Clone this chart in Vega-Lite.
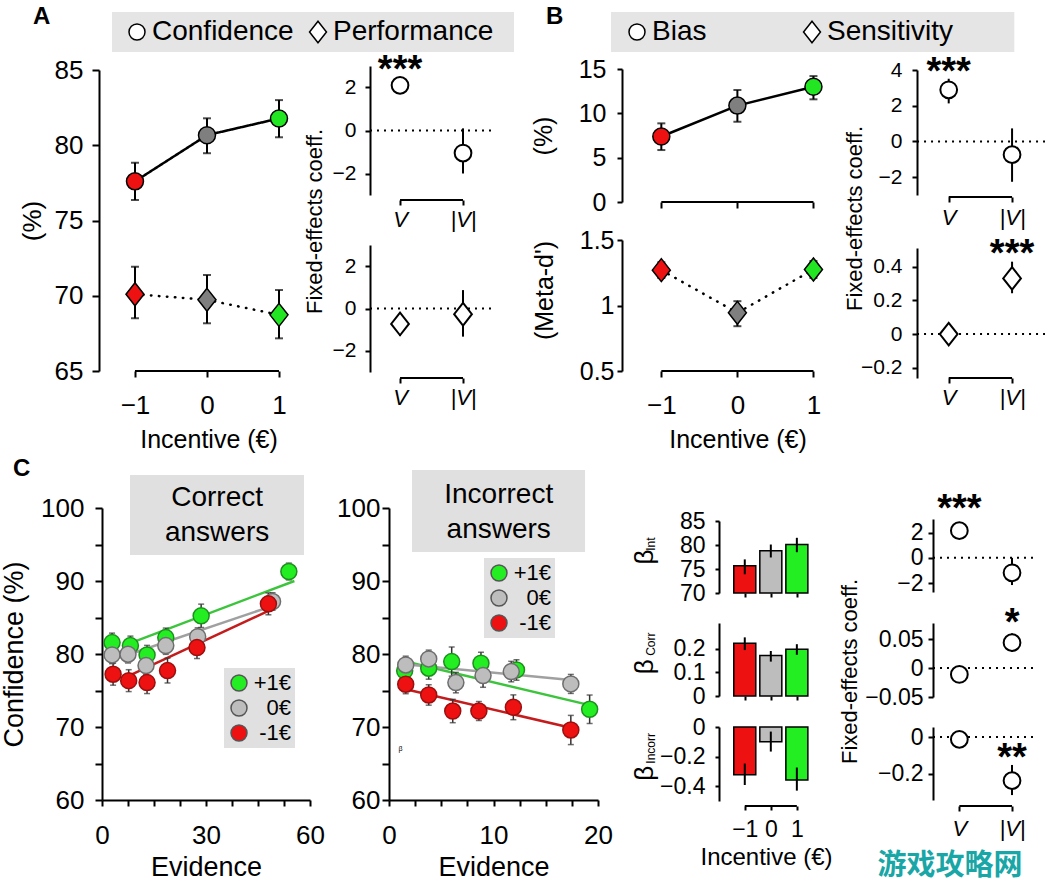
{
"$schema":"https://vega.github.io/schema/vega-lite/v6.json",
"padding":{"left":0,"top":0,"right":0,"bottom":8},
"background":"white",
"spacing":0,
"bounds":"flush",
"resolve":{"scale":{"fill":"independent","stroke":"independent","shape":"independent","color":"independent","strokeDash":"independent"}},
"config":{
 "view":{"stroke":null},
 "font":"Liberation Sans",
 "axis":{"labelFont":"Liberation Sans","titleFont":"Liberation Sans","labelColor":"black","titleColor":"black","domainColor":"black","tickColor":"black","domainWidth":2,"tickWidth":2,"grid":false,"titleFontWeight":"normal","labelFlush":false,"labelOverlap":false},
 "legend":{"labelFont":"Liberation Sans","labelColor":"black","labelLimit":400},
 "text":{"font":"Liberation Sans","color":"black"},
 "title":{"font":"Liberation Sans","color":"black"}
},
"datasets":{
 "aMain":[{"m":"Confidence","inc":-1,"g":"-1","v":77.6,"lo":76.36,"hi":78.84},{"m":"Confidence","inc":0,"g":"0","v":80.67,"lo":79.47,"hi":81.79},{"m":"Confidence","inc":1,"g":"1","v":81.78,"lo":80.53,"hi":83.0},{"m":"Performance","inc":-1,"g":"-1","v":70.1,"lo":68.5,"hi":71.93},{"m":"Performance","inc":0,"g":"0","v":69.73,"lo":68.17,"hi":71.38},{"m":"Performance","inc":1,"g":"1","v":68.73,"lo":67.17,"hi":70.38}],
 "aCoef1":[{"k":1,"v":2.1,"lo":1.85,"hi":2.35,"sig":"***"},{"k":2,"v":-1.05,"lo":-2.0,"hi":0.1,"sig":""}],
 "aCoef2":[{"k":1,"v":-0.73,"lo":-1.3,"hi":-0.2,"sig":""},{"k":2,"v":-0.27,"lo":-1.33,"hi":0.87,"sig":""}],
 "bMain1":[{"m":"Bias","inc":-1,"g":"-1","v":7.39,"lo":5.86,"hi":8.87},{"m":"Bias","inc":0,"g":"0","v":10.87,"lo":9.05,"hi":12.63},{"m":"Bias","inc":1,"g":"1","v":13.0,"lo":11.58,"hi":14.2}],
 "bMain2":[{"m":"Sensitivity","inc":-1,"g":"-1","v":1.27,"lo":1.21,"hi":1.33},{"m":"Sensitivity","inc":0,"g":"0","v":0.944,"lo":0.842,"hi":1.033},{"m":"Sensitivity","inc":1,"g":"1","v":1.275,"lo":1.21,"hi":1.34}],
 "bCoef1":[{"k":1,"v":2.89,"lo":2.13,"hi":3.51,"sig":"***"},{"k":2,"v":-0.74,"lo":-2.26,"hi":0.73,"sig":""}],
 "bCoef2":[{"k":1,"v":0.0,"lo":-0.02,"hi":0.02,"sig":""},{"k":2,"v":0.33,"lo":0.242,"hi":0.429,"sig":"***"}],
 "cCorr":[
  {"grp":"+1€","x":2.9,"y":81.56,"lo":80.26,"hi":82.86},{"grp":"+1€","x":8.2,"y":81.15,"lo":79.85,"hi":82.45},{"grp":"+1€","x":13.0,"y":79.88,"lo":78.58,"hi":81.18},{"grp":"+1€","x":18.4,"y":82.25,"lo":80.95,"hi":83.55},{"grp":"+1€","x":28.6,"y":85.23,"lo":83.63,"hi":86.83},{"grp":"+1€","x":53.9,"y":91.3,"lo":90.15,"hi":92.45},
  {"grp":"0€","x":2.9,"y":79.88,"lo":78.68,"hi":81.08},{"grp":"0€","x":7.5,"y":79.97,"lo":78.77,"hi":81.17},{"grp":"0€","x":12.7,"y":78.41,"lo":77.21,"hi":79.61},{"grp":"0€","x":18.4,"y":81.15,"lo":79.95,"hi":82.35},{"grp":"0€","x":27.6,"y":82.38,"lo":81.18,"hi":83.58},{"grp":"0€","x":49.2,"y":87.19,"lo":85.99,"hi":88.39},
  {"grp":"-1€","x":3.2,"y":77.23,"lo":75.73,"hi":78.73},{"grp":"-1€","x":7.7,"y":76.35,"lo":74.85,"hi":77.85},{"grp":"-1€","x":13.0,"y":76.08,"lo":74.58,"hi":77.58},{"grp":"-1€","x":18.9,"y":77.73,"lo":76.03,"hi":79.43},{"grp":"-1€","x":27.4,"y":80.88,"lo":79.38,"hi":82.38},{"grp":"-1€","x":48.0,"y":86.87,"lo":85.37,"hi":88.37}],
 "cCorrFit":[{"grp":"+1€","x":8.2,"y":81.5},{"grp":"+1€","x":55.5,"y":90.0},{"grp":"0€","x":7.5,"y":79.9},{"grp":"0€","x":49.9,"y":86.7},{"grp":"-1€","x":7.7,"y":77.0},{"grp":"-1€","x":48.0,"y":85.9}],
 "cInc":[
  {"grp":"+1€","x":1.5,"y":77.7,"lo":76.2,"hi":79.2},{"grp":"+1€","x":3.8,"y":78.05,"lo":76.55,"hi":79.55},{"grp":"+1€","x":6.0,"y":78.96,"lo":76.96,"hi":80.96},{"grp":"+1€","x":8.8,"y":78.74,"lo":77.24,"hi":80.24},{"grp":"+1€","x":12.2,"y":77.82,"lo":76.42,"hi":79.22},{"grp":"+1€","x":19.2,"y":72.43,"lo":70.48,"hi":74.38},
  {"grp":"0€","x":1.6,"y":78.5,"lo":77.3,"hi":79.7},{"grp":"0€","x":3.8,"y":79.33,"lo":78.13,"hi":80.53},{"grp":"0€","x":6.4,"y":76.08,"lo":74.68,"hi":77.48},{"grp":"0€","x":9.0,"y":77.04,"lo":75.44,"hi":78.64},{"grp":"0€","x":11.7,"y":77.59,"lo":76.19,"hi":78.99},{"grp":"0€","x":17.4,"y":75.9,"lo":74.6,"hi":77.2},
  {"grp":"-1€","x":1.6,"y":75.86,"lo":74.56,"hi":77.16},{"grp":"-1€","x":3.8,"y":74.39,"lo":72.99,"hi":75.79},{"grp":"-1€","x":6.1,"y":72.19,"lo":70.59,"hi":73.79},{"grp":"-1€","x":8.6,"y":72.19,"lo":70.89,"hi":73.49},{"grp":"-1€","x":11.9,"y":72.7,"lo":71.0,"hi":74.4},{"grp":"-1€","x":17.4,"y":69.59,"lo":67.59,"hi":71.59}],
 "cIncFit":[{"grp":"+1€","x":1.5,"y":79.0},{"grp":"+1€","x":19.2,"y":73.0},{"grp":"0€","x":1.5,"y":78.6},{"grp":"0€","x":17.4,"y":76.45},{"grp":"-1€","x":1.5,"y":75.2},{"grp":"-1€","x":17.4,"y":69.9}],
 "bInt":[{"inc":-1,"g":"-1","v":75.7,"lo":73.9,"hi":77.0},{"inc":0,"g":"0","v":78.8,"lo":77.4,"hi":80.1},{"inc":1,"g":"1","v":80.1,"lo":78.5,"hi":81.5}],
 "bCorr":[{"inc":-1,"g":"-1","v":0.2245,"lo":0.195,"hi":0.249},{"inc":0,"g":"0","v":0.172,"lo":0.146,"hi":0.191},{"inc":1,"g":"1","v":0.199,"lo":0.175,"hi":0.22}],
 "bIncorr":[{"inc":-1,"g":"-1","v":-0.322,"lo":-0.392,"hi":-0.247},{"inc":0,"g":"0","v":-0.1,"lo":-0.166,"hi":-0.031},{"inc":1,"g":"1","v":-0.358,"lo":-0.43,"hi":-0.274}],
 "cCoef1":[{"k":1,"v":2.15,"lo":1.95,"hi":2.35,"sig":"***"},{"k":2,"v":-1.18,"lo":-2.15,"hi":0.0,"sig":""}],
 "cCoef2":[{"k":1,"v":-0.011,"lo":-0.015,"hi":-0.007,"sig":""},{"k":2,"v":0.044,"lo":0.028,"hi":0.06,"sig":"*"}],
 "cCoef3":[{"k":1,"v":-0.013,"lo":-0.02,"hi":-0.006,"sig":""},{"k":2,"v":-0.239,"lo":-0.318,"hi":-0.153,"sig":"**"}]
},
"hconcat":[
 {"width":100,"height":1,"data":{"values":[]},"mark":"point"},
 {"vconcat":[
  {"width":1,"height":70,"data":{"values":[]},"mark":"point","title":{"text":"A","anchor":"start","frame":"group","fontSize":24,"fontWeight":"bold","dx":-69,"dy":29,"offset":0}},
  {"width":213,"height":301,"resolve":{"axis":{"x":"independent","y":"independent"}},"layer":[
   {"data":{"values":[{}]},"mark":{"type":"rect","fill":"#e5e5e5"},"encoding":{
    "x":{"datum":-1.319,"scale":{"domain":[-1.458,1.5],"nice":false,"zero":false},"axis":{"orient":"bottom","values":[-1,0,1],"domain":false,"title":"Incentive (€)","labelFontSize":26,"titleFontSize":25,"tickSize":6,"labelPadding":15,"titlePadding":9}},
    "x2":{"datum":4.264},
    "y":{"datum":88.854,"scale":{"domain":[65,85],"nice":false,"zero":false},"axis":{"orient":"left","values":[65,70,75,80,85],"title":"(%)","offset":3,"labelFontSize":26,"titleFontSize":26,"tickSize":7,"labelPadding":9,"titlePadding":9}},
    "y2":{"datum":86.196}}},
   {"data":{"values":[{}]},"mark":{"type":"rule","color":"black","strokeWidth":2},"encoding":{"x":{"datum":-1,"axis":null},"x2":{"datum":1},"y":{"datum":65,"axis":null}}},
   {"data":{"name":"aMain"},"mark":{"type":"line","color":"black","strokeWidth":2.5,"strokeCap":"round"},"encoding":{"x":{"field":"inc","type":"quantitative","axis":null},"y":{"field":"v","type":"quantitative","axis":null},"strokeDash":{"field":"m","type":"nominal","scale":{"domain":["Performance","Confidence"],"range":[[0.5,7.5],[1,0]]},"legend":null}}},
   {"data":{"name":"aMain"},"mark":{"type":"errorbar","color":"black","thickness":2,"ticks":true,"size":8},"encoding":{"x":{"field":"inc","type":"quantitative","axis":null},"y":{"field":"lo","type":"quantitative","axis":null},"y2":{"field":"hi"}}},
   {"data":{"name":"aMain"},"mark":{"type":"point","filled":true,"fill":"white","stroke":"black","strokeWidth":1.5,"size":289,"opacity":1},"encoding":{
    "x":{"field":"inc","type":"quantitative","axis":null},
    "y":{"field":"v","type":"quantitative","axis":null},
    "shape":{"field":"m","type":"nominal","scale":{"domain":["Confidence","Performance"],"range":["circle","M0,-1.35L1.06,0L0,1.35L-1.06,0Z"]},"legend":{"orient":"none","legendX":21,"legendY":-52,"direction":"horizontal","title":null,"labelFontSize":28,"labelLimit":400,"symbolSize":256,"symbolFillColor":"white","symbolStrokeColor":"black","symbolStrokeWidth":1.5,"labelOffset":1,"columnPadding":10,"padding":0}},
    "fill":{"field":"g","type":"nominal","scale":{"domain":["-1","0","1"],"range":["#ee1111","#7f7f7f","#22e622"]},"legend":null}}}
  ]},
  {"width":1,"height":137,"data":{"values":[]},"mark":"point","title":{"text":"C","anchor":"start","frame":"group","fontSize":24,"fontWeight":"bold","dx":-89,"dy":110,"offset":0}},
  {"width":208,"height":292,"resolve":{"axis":{"x":"independent","y":"independent"}},"layer":[
   {"data":{"values":[{}]},"mark":{"type":"rect","fill":"#e0e0e0"},"encoding":{
    "x":{"datum":8.08,"scale":{"domain":[0,60],"nice":false,"zero":false},"axis":{"orient":"bottom","values":[0,7.5,15,22.5,30,37.5,45,52.5,60],"labelExpr":"datum.value % 30 === 0 ? datum.label : ''","title":"Evidence","labelFontSize":26,"titleFontSize":27,"tickSize":6,"labelPadding":16,"titlePadding":6}},
    "x2":{"datum":58.27},
    "y":{"datum":104.52,"scale":{"domain":[60,100],"nice":false,"zero":false},"axis":{"orient":"left","values":[60,65,70,75,80,85,90,95,100],"labelExpr":"datum.value % 10 === 0 ? datum.label : ''","title":"Confidence (%)","labelFontSize":26,"titleFontSize":27,"tickSize":7,"labelPadding":11,"titlePadding":12}},
    "y2":{"datum":93.56}}},
   {"data":{"values":[{}]},"mark":{"type":"text","text":["Correct","answers"],"fontSize":28,"lineHeight":35.6,"align":"center","baseline":"middle"},"encoding":{"x":{"datum":33.2,"axis":null},"y":{"datum":101.41,"axis":null}}},
   {"data":{"name":"cCorrFit"},"mark":{"type":"line","strokeWidth":2.5},"encoding":{"x":{"field":"x","type":"quantitative","axis":null},"y":{"field":"y","type":"quantitative","axis":null},"color":{"field":"grp","type":"nominal","scale":{"domain":["-1€","0€","+1€"],"range":["#c41c1c","#a0a0a0","#3cc43c"]},"legend":null}}},
   {"data":{"name":"cCorr"},"mark":{"type":"errorbar","ticks":true,"size":6,"thickness":1.5,"color":"#333333"},"encoding":{"x":{"field":"x","type":"quantitative","axis":null},"y":{"field":"lo","type":"quantitative","axis":null},"y2":{"field":"hi"}}},
   {"data":{"name":"cCorr"},"mark":{"type":"point","filled":true,"size":256,"strokeWidth":1.5,"opacity":1},"encoding":{
    "x":{"field":"x","type":"quantitative","axis":null},
    "y":{"field":"y","type":"quantitative","axis":null},
    "fill":{"field":"grp","type":"nominal","scale":{"domain":["+1€","0€","-1€"],"range":["#22ee22","#bdbdbd","#ee1111"]},"legend":{"orient":"none","legendX":122,"legendY":160,"fillColor":"#e0e0e0","padding":4,"title":null,"labelFontSize":22,"labelAlign":"right","labelOffset":41,"symbolSize":256,"symbolStrokeColor":"#555555","symbolStrokeWidth":1.5,"rowPadding":3}},
    "stroke":{"field":"grp","type":"nominal","scale":{"domain":["-1€","0€","+1€"],"range":["#9c0f0f","#6e6e6e","#1e8f1e"]},"legend":null}}}
  ]}
 ],"spacing":0,"bounds":"flush","resolve":{"scale":{"fill":"independent","stroke":"independent","shape":"independent","color":"independent","strokeDash":"independent"}}},
 {"width":287,"height":1,"data":{"values":[]},"mark":"point"},
 {"vconcat":[
  {"width":1,"height":66,"data":{"values":[]},"mark":"point"},
  {"width":103,"height":129,"resolve":{"axis":{"x":"independent","y":"independent"}},"layer":[
   {"data":{"values":[{}]},"mark":{"type":"rule","color":"black","strokeWidth":2,"strokeDash":[2,5]},"encoding":{
    "x":{"datum":0.5234,"scale":{"domain":[0.825,2.46],"nice":false,"zero":false},"axis":{"orient":"bottom","values":[1,2],"domain":false,"labelExpr":"datum.value == 1 ? 'V' : '|V|'","labelFontStyle":"italic","labelFontSize":22,"tickSize":5,"labelPadding":4,"offset":5,"title":null}},
    "x2":{"datum":2.46},
    "y":{"datum":0,"scale":{"domain":[-3,3],"nice":false,"zero":false},"axis":{"orient":"left","values":[-2,0,2],"offset":19,"labelFontSize":21,"tickSize":5,"labelPadding":9,"title":"Fixed-effects coeff.","titleFontSize":22,"titleY":155,"titlePadding":6}}}},
   {"data":{"values":[{}]},"mark":{"type":"rule","color":"black","strokeWidth":2,"yOffset":5},"encoding":{"x":{"datum":1,"axis":null},"x2":{"datum":2},"y":{"datum":-3,"axis":null}}},
   {"data":{"name":"aCoef1"},"mark":{"type":"errorbar","color":"black","thickness":2},"encoding":{"x":{"field":"k","type":"quantitative","axis":null},"y":{"field":"lo","type":"quantitative","axis":null},"y2":{"field":"hi"}}},
   {"data":{"name":"aCoef1"},"mark":{"type":"point","shape":"circle","filled":true,"fill":"white","stroke":"black","strokeWidth":2,"size":280,"opacity":1},"encoding":{"x":{"field":"k","type":"quantitative","axis":null},"y":{"field":"v","type":"quantitative","axis":null}}},
   {"data":{"name":"aCoef1"},"mark":{"type":"text","fontSize":38,"fontWeight":"bold","baseline":"alphabetic","align":"center","dy":-3},"encoding":{"x":{"field":"k","type":"quantitative","axis":null},"y":{"field":"v","type":"quantitative","axis":null},"text":{"field":"sig"}}}
  ]},
  {"width":1,"height":50,"data":{"values":[]},"mark":"point"},
  {"width":103,"height":127,"resolve":{"axis":{"x":"independent","y":"independent"}},"layer":[
   {"data":{"values":[{}]},"mark":{"type":"rule","color":"black","strokeWidth":2,"strokeDash":[2,5]},"encoding":{
    "x":{"datum":0.5234,"scale":{"domain":[0.825,2.46],"nice":false,"zero":false},"axis":{"orient":"bottom","values":[1,2],"domain":false,"labelExpr":"datum.value == 1 ? 'V' : '|V|'","labelFontStyle":"italic","labelFontSize":22,"tickSize":5,"labelPadding":4,"offset":6,"title":null}},
    "x2":{"datum":2.46},
    "y":{"datum":0,"scale":{"domain":[-3,3],"nice":false,"zero":false},"axis":{"orient":"left","values":[-2,0,2],"offset":19,"labelFontSize":21,"tickSize":5,"labelPadding":9,"title":null}}}},
   {"data":{"values":[{}]},"mark":{"type":"rule","color":"black","strokeWidth":2,"yOffset":6},"encoding":{"x":{"datum":1,"axis":null},"x2":{"datum":2},"y":{"datum":-3,"axis":null}}},
   {"data":{"name":"aCoef2"},"mark":{"type":"errorbar","color":"black","thickness":2},"encoding":{"x":{"field":"k","type":"quantitative","axis":null},"y":{"field":"lo","type":"quantitative","axis":null},"y2":{"field":"hi"}}},
   {"data":{"name":"aCoef2"},"mark":{"type":"point","shape":"M0,-1.35L1.06,0L0,1.35L-1.06,0Z","filled":true,"fill":"white","stroke":"black","strokeWidth":2,"size":280,"opacity":1},"encoding":{"x":{"field":"k","type":"quantitative","axis":null},"y":{"field":"v","type":"quantitative","axis":null}}}
  ]},
  {"width":1,"height":136,"data":{"values":[]},"mark":"point"},
  {"width":209,"height":292,"resolve":{"axis":{"x":"independent","y":"independent"}},"layer":[
   {"data":{"values":[{}]},"mark":{"type":"rect","fill":"#e0e0e0"},"encoding":{
    "x":{"datum":2.2,"scale":{"domain":[0,20],"nice":false,"zero":false},"axis":{"orient":"bottom","values":[0,2.5,5,7.5,10,12.5,15,17.5,20],"labelExpr":"datum.value % 10 === 0 ? datum.label : ''","title":"Evidence","labelFontSize":26,"titleFontSize":27,"tickSize":6,"labelPadding":16,"titlePadding":6}},
    "x2":{"datum":18.76},
    "y":{"datum":105.2,"scale":{"domain":[60,100],"nice":false,"zero":false},"axis":{"orient":"left","values":[60,65,70,75,80,85,90,95,100],"labelExpr":"datum.value % 10 === 0 ? datum.label : ''","title":null,"labelFontSize":26,"tickSize":7,"labelPadding":2}},
    "y2":{"datum":93.97}}},
   {"data":{"values":[{}]},"mark":{"type":"text","text":["Incorrect","answers"],"fontSize":28,"lineHeight":35,"align":"center","baseline":"middle"},"encoding":{"x":{"datum":10.5,"axis":null},"y":{"datum":101.78,"axis":null}}},
   {"data":{"values":[{}]},"mark":{"type":"text","text":"β","fontSize":7},"encoding":{"x":{"datum":1.1,"axis":null},"y":{"datum":67.0,"axis":null}}},
   {"data":{"name":"cIncFit"},"mark":{"type":"line","strokeWidth":2.5},"encoding":{"x":{"field":"x","type":"quantitative","axis":null},"y":{"field":"y","type":"quantitative","axis":null},"color":{"field":"grp","type":"nominal","scale":{"domain":["-1€","0€","+1€"],"range":["#c41c1c","#a0a0a0","#3cc43c"]},"legend":null}}},
   {"data":{"name":"cInc"},"mark":{"type":"errorbar","ticks":true,"size":6,"thickness":1.5,"color":"#333333"},"encoding":{"x":{"field":"x","type":"quantitative","axis":null},"y":{"field":"lo","type":"quantitative","axis":null},"y2":{"field":"hi"}}},
   {"data":{"name":"cInc"},"mark":{"type":"point","filled":true,"size":256,"strokeWidth":1.5,"opacity":1},"encoding":{
    "x":{"field":"x","type":"quantitative","axis":null},
    "y":{"field":"y","type":"quantitative","axis":null},
    "fill":{"field":"grp","type":"nominal","scale":{"domain":["+1€","0€","-1€"],"range":["#22ee22","#bdbdbd","#ee1111"]},"legend":{"orient":"none","legendX":95,"legendY":50,"fillColor":"#e0e0e0","padding":4,"title":null,"labelFontSize":22,"labelAlign":"right","labelOffset":41,"symbolSize":256,"symbolStrokeColor":"#555555","symbolStrokeWidth":1.5,"rowPadding":3}},
    "stroke":{"field":"grp","type":"nominal","scale":{"domain":["-1€","0€","+1€"],"range":["#9c0f0f","#6e6e6e","#1e8f1e"]},"legend":null}}}
  ]}
 ],"spacing":0,"bounds":"flush","resolve":{"scale":{"fill":"independent","stroke":"independent","shape":"independent","color":"independent","strokeDash":"independent"}}},
 {"width":233,"height":1,"data":{"values":[]},"mark":"point"},
 {"vconcat":[
  {"width":1,"height":69,"data":{"values":[]},"mark":"point","title":{"text":"B","anchor":"start","frame":"group","fontSize":24,"fontWeight":"bold","dx":-76,"dy":29,"offset":0}},
  {"width":231,"height":133,"resolve":{"axis":{"x":"independent","y":"independent"}},"layer":[
   {"data":{"values":[{}]},"mark":{"type":"rect","fill":"#e5e5e5"},"encoding":{
    "x":{"datum":-1.662,"scale":{"domain":[-1.517,1.52],"nice":false,"zero":false},"axis":{"orient":"bottom","values":[-1,0,1],"domain":false,"labels":false,"tickSize":6,"title":null}},
    "x2":{"datum":3.641},
    "y":{"datum":21.43,"scale":{"domain":[0,15],"nice":false,"zero":false},"axis":{"orient":"left","values":[0,5,10,15],"title":"(%)","labelFontSize":25,"titleFontSize":25,"tickSize":5,"labelPadding":11,"titlePadding":22}},
    "y2":{"datum":16.92}}},
   {"data":{"values":[{}]},"mark":{"type":"rule","color":"black","strokeWidth":2},"encoding":{"x":{"datum":-1,"axis":null},"x2":{"datum":1},"y":{"datum":0,"axis":null}}},
   {"data":{"name":"bMain1"},"mark":{"type":"line","color":"black","strokeWidth":2.5},"encoding":{"x":{"field":"inc","type":"quantitative","axis":null},"y":{"field":"v","type":"quantitative","axis":null}}},
   {"data":{"name":"bMain1"},"mark":{"type":"errorbar","color":"black","thickness":2,"ticks":true,"size":8},"encoding":{"x":{"field":"inc","type":"quantitative","axis":null},"y":{"field":"lo","type":"quantitative","axis":null},"y2":{"field":"hi"}}},
   {"data":{"name":"bMain1"},"mark":{"type":"point","filled":true,"fill":"white","stroke":"black","strokeWidth":1.5,"size":289,"opacity":1},"encoding":{
    "x":{"field":"inc","type":"quantitative","axis":null},
    "y":{"field":"v","type":"quantitative","axis":null},
    "shape":{"field":"m","type":"nominal","scale":{"domain":["Bias","Sensitivity"],"range":["circle","M0,-1.35L1.06,0L0,1.35L-1.06,0Z"]},"legend":{"orient":"none","legendX":1,"legendY":-51,"direction":"horizontal","title":null,"labelFontSize":28,"labelLimit":400,"symbolSize":256,"symbolFillColor":"white","symbolStrokeColor":"black","symbolStrokeWidth":1.5,"labelOffset":1,"columnPadding":91,"padding":0}},
    "fill":{"field":"g","type":"nominal","scale":{"domain":["-1","0","1"],"range":["#ee1111","#7f7f7f","#22e622"]},"legend":null}}}
  ]},
  {"width":1,"height":38,"data":{"values":[]},"mark":"point"},
  {"width":231,"height":131,"resolve":{"axis":{"x":"independent","y":"independent"}},"layer":[
   {"data":{"values":[{}]},"mark":{"type":"rule","color":"black","strokeWidth":2},"encoding":{
    "x":{"datum":-1,"scale":{"domain":[-1.517,1.52],"nice":false,"zero":false},"axis":{"orient":"bottom","values":[-1,0,1],"domain":false,"title":"Incentive (€)","labelFontSize":26,"titleFontSize":25,"tickSize":6,"labelPadding":15,"titlePadding":9}},
    "x2":{"datum":1},
    "y":{"datum":0.5,"scale":{"domain":[0.5,1.5],"nice":false,"zero":false},"axis":{"orient":"left","values":[0.5,1,1.5],"format":"~g","title":"(Meta-d')","titleY":50,"labelFontSize":25,"titleFontSize":25,"tickSize":5,"labelPadding":3,"titlePadding":22}}}},
   {"data":{"name":"bMain2"},"mark":{"type":"line","color":"black","strokeWidth":2.5,"strokeDash":[0.5,7.5],"strokeCap":"round"},"encoding":{"x":{"field":"inc","type":"quantitative","axis":null},"y":{"field":"v","type":"quantitative","axis":null}}},
   {"data":{"name":"bMain2"},"mark":{"type":"errorbar","color":"black","thickness":2,"ticks":true,"size":8},"encoding":{"x":{"field":"inc","type":"quantitative","axis":null},"y":{"field":"lo","type":"quantitative","axis":null},"y2":{"field":"hi"}}},
   {"data":{"name":"bMain2"},"mark":{"type":"point","shape":"M0,-1.35L1.06,0L0,1.35L-1.06,0Z","filled":true,"stroke":"black","strokeWidth":1.5,"size":289,"opacity":1},"encoding":{
    "x":{"field":"inc","type":"quantitative","axis":null},
    "y":{"field":"v","type":"quantitative","axis":null},
    "fill":{"field":"g","type":"nominal","scale":{"domain":["-1","0","1"],"range":["#ee1111","#7f7f7f","#22e622"]},"legend":null}}}
  ]}
 ],"spacing":0,"bounds":"flush","resolve":{"scale":{"fill":"independent","stroke":"independent","shape":"independent","color":"independent","strokeDash":"independent"}}},
 {"width":97,"height":1,"data":{"values":[]},"mark":"point"},
 {"vconcat":[
  {"width":1,"height":521,"data":{"values":[]},"mark":"point"},
  {"width":94,"height":72,"resolve":{"axis":{"x":"independent","y":"independent"}},"layer":[
   {"data":{"values":[{}]},"mark":{"type":"text","text":"β","fontSize":26,"angle":270,"align":"center","baseline":"middle"},"encoding":{
    "x":{"datum":-4.836,"scale":{"domain":[-1.99,1.62],"nice":false,"zero":false,"padding":0},"axis":{"orient":"bottom","values":[-1,0,1],"domain":false,"labels":false,"tickSize":4,"title":null}},
    "y":{"datum":77.5,"scale":{"domain":[70,85],"nice":false,"zero":false},"axis":{"orient":"left","values":[70,75,80,85],"labelFontSize":23,"tickSize":4,"labelPadding":10,"title":null}}}},
   {"data":{"values":[{}]},"mark":{"type":"text","text":"Int","fontSize":12,"angle":270,"align":"center","baseline":"middle"},"encoding":{"x":{"datum":-4.605,"axis":null},"y":{"datum":80.2,"axis":null}}},
   {"data":{"name":"bInt"},"mark":{"type":"bar","size":22,"stroke":"black","strokeWidth":1.5},"encoding":{
    "x":{"field":"inc","type":"quantitative","axis":null},
    "y":{"field":"v","type":"quantitative","axis":null},
    "y2":{"datum":70},
    "fill":{"field":"g","type":"nominal","scale":{"domain":["-1","0","1"],"range":["#ee1111","#bdbdbd","#22ee22"]},"legend":null}}},
   {"data":{"name":"bInt"},"mark":{"type":"errorbar","thickness":2,"color":"black"},"encoding":{"x":{"field":"inc","type":"quantitative","axis":null},"y":{"field":"lo","type":"quantitative","axis":null},"y2":{"field":"hi"}}}
  ]},
  {"width":1,"height":30,"data":{"values":[]},"mark":"point"},
  {"width":94,"height":73,"resolve":{"axis":{"x":"independent","y":"independent"}},"layer":[
   {"data":{"values":[{}]},"mark":{"type":"text","text":"β","fontSize":26,"angle":270,"align":"center","baseline":"middle"},"encoding":{
    "x":{"datum":-4.836,"scale":{"domain":[-1.99,1.62],"nice":false,"zero":false,"padding":0},"axis":{"orient":"bottom","values":[-1,0,1],"domain":false,"labels":false,"tickSize":4,"title":null}},
    "y":{"datum":0.1244,"scale":{"domain":[0,0.31],"nice":false,"zero":false},"axis":{"orient":"left","values":[0,0.1,0.2],"format":"~g","labelFontSize":23,"tickSize":4,"labelPadding":10,"title":null}}}},
   {"data":{"values":[{}]},"mark":{"type":"text","text":"Corr","fontSize":12,"angle":270,"align":"center","baseline":"middle"},"encoding":{"x":{"datum":-4.605,"axis":null},"y":{"datum":0.22,"axis":null}}},
   {"data":{"name":"bCorr"},"mark":{"type":"bar","size":22,"stroke":"black","strokeWidth":1.5},"encoding":{
    "x":{"field":"inc","type":"quantitative","axis":null},
    "y":{"field":"v","type":"quantitative","axis":null},
    "y2":{"datum":0},
    "fill":{"field":"g","type":"nominal","scale":{"domain":["-1","0","1"],"range":["#ee1111","#bdbdbd","#22ee22"]},"legend":null}}},
   {"data":{"name":"bCorr"},"mark":{"type":"errorbar","thickness":2,"color":"black"},"encoding":{"x":{"field":"inc","type":"quantitative","axis":null},"y":{"field":"lo","type":"quantitative","axis":null},"y2":{"field":"hi"}}}
  ]},
  {"width":1,"height":31,"data":{"values":[]},"mark":"point"},
  {"width":94,"height":74,"resolve":{"axis":{"x":"independent","y":"independent"}},"layer":[
   {"data":{"values":[{}]},"mark":{"type":"text","text":"β","fontSize":26,"angle":270,"align":"center","baseline":"middle"},"encoding":{
    "x":{"datum":-4.836,"scale":{"domain":[-1.99,1.62],"nice":false,"zero":false,"padding":0},"axis":{"orient":"bottom","values":[-1,0,1],"domain":false,"title":"Incentive (€)","labelFontSize":23,"titleFontSize":24,"tickSize":4,"labelPadding":8,"titlePadding":4,"offset":5}},
    "y":{"datum":-0.3128,"scale":{"domain":[-0.5,0],"nice":false,"zero":false},"axis":{"orient":"left","values":[-0.4,-0.2,0],"format":"~g","labelFontSize":23,"tickSize":4,"labelPadding":10,"title":null}}}},
   {"data":{"values":[{}]},"mark":{"type":"text","text":"Incorr","fontSize":12,"angle":270,"align":"center","baseline":"middle"},"encoding":{"x":{"datum":-4.605,"axis":null},"y":{"datum":-0.144,"axis":null}}},
   {"data":{"values":[{}]},"mark":{"type":"rule","color":"black","strokeWidth":2,"yOffset":5},"encoding":{"x":{"datum":-1,"axis":null},"x2":{"datum":1},"y":{"datum":-0.5,"axis":null}}},
   {"data":{"name":"bIncorr"},"mark":{"type":"bar","size":22,"stroke":"black","strokeWidth":1.5},"encoding":{
    "x":{"field":"inc","type":"quantitative","axis":null},
    "y":{"field":"v","type":"quantitative","axis":null},
    "y2":{"datum":0},
    "fill":{"field":"g","type":"nominal","scale":{"domain":["-1","0","1"],"range":["#ee1111","#bdbdbd","#22ee22"]},"legend":null}}},
   {"data":{"name":"bIncorr"},"mark":{"type":"errorbar","thickness":2,"color":"black"},"encoding":{"x":{"field":"inc","type":"quantitative","axis":null},"y":{"field":"lo","type":"quantitative","axis":null},"y2":{"field":"hi"}}}
  ]}
 ],"spacing":0,"bounds":"flush","resolve":{"scale":{"fill":"independent","stroke":"independent","shape":"independent","color":"independent","strokeDash":"independent"}}},
 {"width":214,"height":1,"data":{"values":[]},"mark":"point"},
 {"vconcat":[
  {"width":1,"height":70,"data":{"values":[]},"mark":"point"},
  {"width":112,"height":125,"resolve":{"axis":{"x":"independent","y":"independent"}},"layer":[
   {"data":{"values":[{}]},"mark":{"type":"rule","color":"black","strokeWidth":2,"strokeDash":[2,5]},"encoding":{
    "x":{"datum":0.5,"scale":{"domain":[0.752,2.52],"nice":false,"zero":false},"axis":{"orient":"bottom","values":[1,2],"domain":false,"labelExpr":"datum.value == 1 ? 'V' : '|V|'","labelFontStyle":"italic","labelFontSize":22,"tickSize":5,"labelPadding":5,"offset":2,"title":null}},
    "x2":{"datum":2.52},
    "y":{"datum":0,"scale":{"domain":[-3,4],"nice":false,"zero":false},"axis":{"orient":"left","values":[-2,0,2,4],"offset":16,"labelFontSize":21,"tickSize":5,"labelPadding":10,"title":"Fixed-effects coeff.","titleFontSize":22,"titleY":148,"titlePadding":12}}}},
   {"data":{"values":[{}]},"mark":{"type":"rule","color":"black","strokeWidth":2,"yOffset":2},"encoding":{"x":{"datum":1,"axis":null},"x2":{"datum":2},"y":{"datum":-3,"axis":null}}},
   {"data":{"name":"bCoef1"},"mark":{"type":"errorbar","color":"black","thickness":2},"encoding":{"x":{"field":"k","type":"quantitative","axis":null},"y":{"field":"lo","type":"quantitative","axis":null},"y2":{"field":"hi"}}},
   {"data":{"name":"bCoef1"},"mark":{"type":"point","shape":"circle","filled":true,"fill":"white","stroke":"black","strokeWidth":2,"size":280,"opacity":1},"encoding":{"x":{"field":"k","type":"quantitative","axis":null},"y":{"field":"v","type":"quantitative","axis":null}}},
   {"data":{"name":"bCoef1"},"mark":{"type":"text","fontSize":38,"fontWeight":"bold","baseline":"alphabetic","align":"center","dy":-6},"encoding":{"x":{"field":"k","type":"quantitative","axis":null},"y":{"field":"v","type":"quantitative","axis":null},"text":{"field":"sig"}}}
  ]},
  {"width":1,"height":53,"data":{"values":[]},"mark":"point"},
  {"width":112,"height":130,"resolve":{"axis":{"x":"independent","y":"independent"}},"layer":[
   {"data":{"values":[{}]},"mark":{"type":"rule","color":"black","strokeWidth":2,"strokeDash":[2,5]},"encoding":{
    "x":{"datum":0.5,"scale":{"domain":[0.752,2.52],"nice":false,"zero":false},"axis":{"orient":"bottom","values":[1,2],"domain":false,"labelExpr":"datum.value == 1 ? 'V' : '|V|'","labelFontStyle":"italic","labelFontSize":22,"tickSize":5,"labelPadding":4,"offset":0,"title":null}},
    "x2":{"datum":2.52},
    "y":{"datum":0,"scale":{"domain":[-0.26,0.51],"nice":false,"zero":false},"axis":{"orient":"left","values":[-0.2,0,0.2,0.4],"format":"~g","offset":16,"labelFontSize":21,"tickSize":5,"labelPadding":10,"title":null}}}},
   {"data":{"values":[{}]},"mark":{"type":"rule","color":"black","strokeWidth":2},"encoding":{"x":{"datum":1,"axis":null},"x2":{"datum":2},"y":{"datum":-0.26,"axis":null}}},
   {"data":{"name":"bCoef2"},"mark":{"type":"errorbar","color":"black","thickness":2},"encoding":{"x":{"field":"k","type":"quantitative","axis":null},"y":{"field":"lo","type":"quantitative","axis":null},"y2":{"field":"hi"}}},
   {"data":{"name":"bCoef2"},"mark":{"type":"point","shape":"M0,-1.35L1.06,0L0,1.35L-1.06,0Z","filled":true,"fill":"white","stroke":"black","strokeWidth":2,"size":280,"opacity":1},"encoding":{"x":{"field":"k","type":"quantitative","axis":null},"y":{"field":"v","type":"quantitative","axis":null}}},
   {"data":{"name":"bCoef2"},"mark":{"type":"text","fontSize":38,"fontWeight":"bold","baseline":"alphabetic","align":"center","dy":-12},"encoding":{"x":{"field":"k","type":"quantitative","axis":null},"y":{"field":"v","type":"quantitative","axis":null},"text":{"field":"sig"}}}
  ]},
  {"width":1,"height":141,"data":{"values":[]},"mark":"point"},
  {"width":104,"height":73,"resolve":{"axis":{"x":"independent","y":"independent"}},"layer":[
   {"data":{"values":[{}]},"mark":{"type":"rule","color":"black","strokeWidth":2,"strokeDash":[2,5]},"encoding":{
    "x":{"datum":0.5,"scale":{"domain":[0.5,2.474],"nice":false,"zero":false},"axis":null},
    "x2":{"datum":2.474},
    "y":{"datum":0,"scale":{"domain":[-2.7,3.07],"nice":false,"zero":false},"axis":{"orient":"left","values":[-2,0,2],"labelFontSize":23,"tickSize":5,"labelPadding":5,"title":null}}}},
   {"data":{"name":"cCoef1"},"mark":{"type":"errorbar","color":"black","thickness":2},"encoding":{"x":{"field":"k","type":"quantitative","axis":null},"y":{"field":"lo","type":"quantitative","axis":null},"y2":{"field":"hi"}}},
   {"data":{"name":"cCoef1"},"mark":{"type":"point","shape":"circle","filled":true,"fill":"white","stroke":"black","strokeWidth":2,"size":280,"opacity":1},"encoding":{"x":{"field":"k","type":"quantitative","axis":null},"y":{"field":"v","type":"quantitative","axis":null}}},
   {"data":{"name":"cCoef1"},"mark":{"type":"text","fontSize":38,"fontWeight":"bold","baseline":"alphabetic","align":"center","dy":-10},"encoding":{"x":{"field":"k","type":"quantitative","axis":null},"y":{"field":"v","type":"quantitative","axis":null},"text":{"field":"sig"}}}
  ]},
  {"width":1,"height":31,"data":{"values":[]},"mark":"point"},
  {"width":104,"height":74,"resolve":{"axis":{"x":"independent","y":"independent"}},"layer":[
   {"data":{"values":[{}]},"mark":{"type":"rule","color":"black","strokeWidth":2,"strokeDash":[2,5]},"encoding":{
    "x":{"datum":0.5,"scale":{"domain":[0.5,2.474],"nice":false,"zero":false},"axis":null},
    "x2":{"datum":2.474},
    "y":{"datum":0,"scale":{"domain":[-0.05,0.078],"nice":false,"zero":false},"axis":{"orient":"left","values":[-0.05,0,0.05],"format":"~g","labelFontSize":23,"tickSize":5,"labelPadding":5,"title":"Fixed-effects coeff.","titleFontSize":22,"titleY":48,"titlePadding":3}}}},
   {"data":{"name":"cCoef2"},"mark":{"type":"errorbar","color":"black","thickness":2},"encoding":{"x":{"field":"k","type":"quantitative","axis":null},"y":{"field":"lo","type":"quantitative","axis":null},"y2":{"field":"hi"}}},
   {"data":{"name":"cCoef2"},"mark":{"type":"point","shape":"circle","filled":true,"fill":"white","stroke":"black","strokeWidth":2,"size":280,"opacity":1},"encoding":{"x":{"field":"k","type":"quantitative","axis":null},"y":{"field":"v","type":"quantitative","axis":null}}},
   {"data":{"name":"cCoef2"},"mark":{"type":"text","fontSize":38,"fontWeight":"bold","baseline":"alphabetic","align":"center","dy":-8},"encoding":{"x":{"field":"k","type":"quantitative","axis":null},"y":{"field":"v","type":"quantitative","axis":null},"text":{"field":"sig"}}}
  ]},
  {"width":1,"height":30,"data":{"values":[]},"mark":"point"},
  {"width":104,"height":73,"resolve":{"axis":{"x":"independent","y":"independent"}},"layer":[
   {"data":{"values":[{}]},"mark":{"type":"rule","color":"black","strokeWidth":2,"strokeDash":[2,5]},"encoding":{
    "x":{"datum":0.5,"scale":{"domain":[0.5,2.474],"nice":false,"zero":false},"axis":{"orient":"bottom","values":[1,2],"domain":false,"labelExpr":"datum.value == 1 ? 'V' : '|V|'","labelFontStyle":"italic","labelFontSize":22,"tickSize":5,"labelPadding":7,"offset":6,"title":null}},
    "x2":{"datum":2.474},
    "y":{"datum":0,"scale":{"domain":[-0.345,0.055],"nice":false,"zero":false},"axis":{"orient":"left","values":[-0.2,0],"format":"~g","labelFontSize":23,"tickSize":5,"labelPadding":5,"title":null}}}},
   {"data":{"values":[{}]},"mark":{"type":"rule","color":"black","strokeWidth":2,"yOffset":6},"encoding":{"x":{"datum":1,"axis":null},"x2":{"datum":2},"y":{"datum":-0.345,"axis":null}}},
   {"data":{"values":[{}]},"mark":{"type":"text","text":"游戏攻略网","font":"Noto Sans CJK SC","fontSize":29,"fontWeight":"bold","color":"#19a6a6","align":"center","baseline":"middle"},"encoding":{"x":{"datum":0.823,"axis":null},"y":{"datum":-0.705,"axis":null}}},
   {"data":{"name":"cCoef3"},"mark":{"type":"errorbar","color":"black","thickness":2},"encoding":{"x":{"field":"k","type":"quantitative","axis":null},"y":{"field":"lo","type":"quantitative","axis":null},"y2":{"field":"hi"}}},
   {"data":{"name":"cCoef3"},"mark":{"type":"point","shape":"circle","filled":true,"fill":"white","stroke":"black","strokeWidth":2,"size":280,"opacity":1},"encoding":{"x":{"field":"k","type":"quantitative","axis":null},"y":{"field":"v","type":"quantitative","axis":null}}},
   {"data":{"name":"cCoef3"},"mark":{"type":"text","fontSize":38,"fontWeight":"bold","baseline":"alphabetic","align":"center","dy":-11},"encoding":{"x":{"field":"k","type":"quantitative","axis":null},"y":{"field":"v","type":"quantitative","axis":null},"text":{"field":"sig"}}}
  ]}
 ],"spacing":0,"bounds":"flush","resolve":{"scale":{"fill":"independent","stroke":"independent","shape":"independent","color":"independent","strokeDash":"independent"}}}
]
}
